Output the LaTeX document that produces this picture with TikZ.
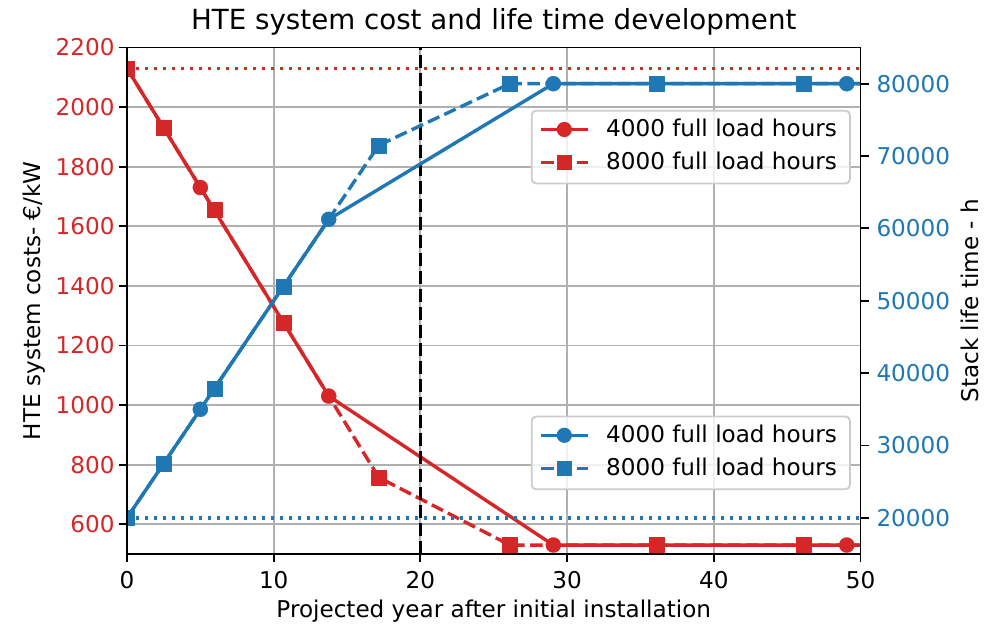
\documentclass[tikz,border=0pt]{standalone}
\usepackage{fontspec}
\setmainfont{DejaVu Sans}
\usetikzlibrary{plotmarks}
\definecolor{tabred}{HTML}{D62728}
\definecolor{tabblue}{HTML}{1F77B4}
\definecolor{gridgray}{HTML}{B0B0B0}
\definecolor{legedge}{HTML}{CCCCCC}
\begin{document}
\begin{tikzpicture}[x=1pt,y=1pt,
  lbl/.style={font=\fontsize{23.1}{27}\selectfont, inner sep=0pt, outer sep=0pt},
  ttl/.style={font=\fontsize{27.7}{32}\selectfont, inner sep=0pt, outer sep=0pt},
  series/.style={line width=3.4pt, line join=round},
  dashedline/.style={dash pattern=on 12.6pt off 5.4pt},
  dottedline/.style={dash pattern=on 3.4pt off 5.6pt},
  gridline/.style={gridgray, line width=1.86pt},
  tickline/.style={black, line width=1.86pt},
  redcirc/.style={mark=*, mark size=7.6pt, mark options={solid, fill=tabred, draw=tabred, line width=0.2pt}},
  redsq/.style={mark=square*, mark size=7.5pt, mark options={solid, fill=tabred, draw=tabred, line width=0.2pt}},
  bluecirc/.style={mark=*, mark size=7.6pt, mark options={solid, fill=tabblue, draw=tabblue, line width=0.2pt}},
  bluesq/.style={mark=square*, mark size=7.5pt, mark options={solid, fill=tabblue, draw=tabblue, line width=0.2pt}},
  legbox/.style={draw=legedge, line width=1.86pt, fill=white, fill opacity=0.8, rounded corners=4.5pt},
]
\fill[white] (0,0) rectangle (991,627);
\useasboundingbox (0,0) rectangle (991,627);

% grid
\foreach \t in {0,10,...,50}{
  \draw[gridline] ({127+14.67*\t},73) -- ({127+14.67*\t},579.5);
}
\foreach \v in {600,800,...,2200}{
  \pgfmathsetmacro\yy{-75.97+0.297941*\v}
  \draw[gridline] (127,\yy) -- (860.5,\yy);
}

\begin{scope}
\clip (127,73) rectangle (860.5,579.5);
% ---- left axis (cost) ----
\begin{scope}[shift={(127pt,-75.97pt)}, x=14.67pt, y=0.297941pt]
  \draw[tabred, series, dottedline] (0,2130) -- (50,2130);
  \draw[tabred, series, redcirc] plot coordinates {(0,2130) (5,1730) (13.75,1030) (29.0625,530) (49.0625,530) (69.0625,530)};
  \draw[tabred, series, dashedline, redsq] plot coordinates {(0,2130) (2.5,1930) (5.9375,1655) (10.664,1276.9) (17.163,757) (26.099,530) (36.099,530) (46.099,530) (56.099,530)};
  \draw[black, series, dashedline] (20,500) -- (20,2200);
\end{scope}
% red legend
\draw[legbox] (531.7,443.5) rectangle (850,516.3);
\draw[tabred, series] (541,497.5) -- (587.6,497.5);
\fill[tabred] (564.3,497.5) circle (7.6);
\draw[tabred, series, dashedline] (541,464.5) -- (587.6,464.5);
\fill[tabred] (556.8,457) rectangle (571.8,472);
\node[lbl, anchor=base west] (rl1) at (606.2,490) {4000 full load hours};
\node[lbl, anchor=base west] (rl2) at (606.2,457) {8000 full load hours};
% ---- right axis (life time, in thousands) ----
\begin{scope}[shift={(127pt,-35.536pt)}, x=14.67pt, y=7.23571pt]
  \draw[tabblue, series, bluecirc] plot coordinates {(0,20) (5,35) (13.75,61.25) (29.0625,80) (49.0625,80) (69.0625,80)};
  \draw[tabblue, series, dashedline, bluesq] plot coordinates {(0,20) (2.5,27.5) (5.9375,37.8125) (10.664,51.992) (17.163,71.489) (26.099,80) (36.099,80) (46.099,80) (56.099,80)};
  \draw[tabblue, series, dottedline] (0,20) -- (50,20);
\end{scope}
\end{scope}

% blue legend
\draw[legbox] (531.7,137.7) rectangle (850,210.5);
\draw[tabblue, series] (541,191.7) -- (587.6,191.7);
\fill[tabblue] (564.3,191.7) circle (7.6);
\draw[tabblue, series, dashedline] (541,158.7) -- (587.6,158.7);
\fill[tabblue] (556.8,151.2) rectangle (571.8,166.2);
\node[lbl, anchor=base west] (bl1) at (606.2,184.2) {4000 full load hours};
\node[lbl, anchor=base west] (bl2) at (606.2,151.2) {8000 full load hours};

% spines
\draw[tickline, line cap=rect] (127,73) rectangle (860.5,579.5);

% x ticks
\foreach \t in {0,10,...,50}{
  \draw[tickline] ({127+14.67*\t},73) -- ({127+14.67*\t},65);
  \node[lbl, anchor=base] (xt\t) at ({127+14.67*\t},38.7) {\t};
}
% left ticks
\foreach \v in {600,800,...,2200}{
  \pgfmathsetmacro\yy{-75.97+0.297941*\v}
  \draw[tickline] (127,\yy) -- (119,\yy);
  \node[lbl, text=tabred, anchor=base east] (yl\v) at (114.5,\yy-8.4) {\v};
}
% right ticks
\foreach \v in {20,30,...,80}{
  \pgfmathsetmacro\yy{-35.536+7.23571*\v}
  \draw[tickline] (860.5,\yy) -- (868.5,\yy);
  \node[lbl, text=tabblue, anchor=base west] (yr\v) at (876.5,\yy-8.4) {\v000};
}

% axis labels and title
\node[lbl, anchor=base] (xlab) at (493.75,9.5) {Projected year after initial installation};
\node[lbl, anchor=base, rotate=90] (ylab) at (40,326.25) {HTE system costs- €/kW};
\node[lbl, anchor=base, rotate=90] (y2lab) at (978,326.25) {Stack life time - h};
\node[ttl, anchor=base] (title) at (493.75,597.5) {HTE system cost and life time development};
\end{tikzpicture}
\end{document}
